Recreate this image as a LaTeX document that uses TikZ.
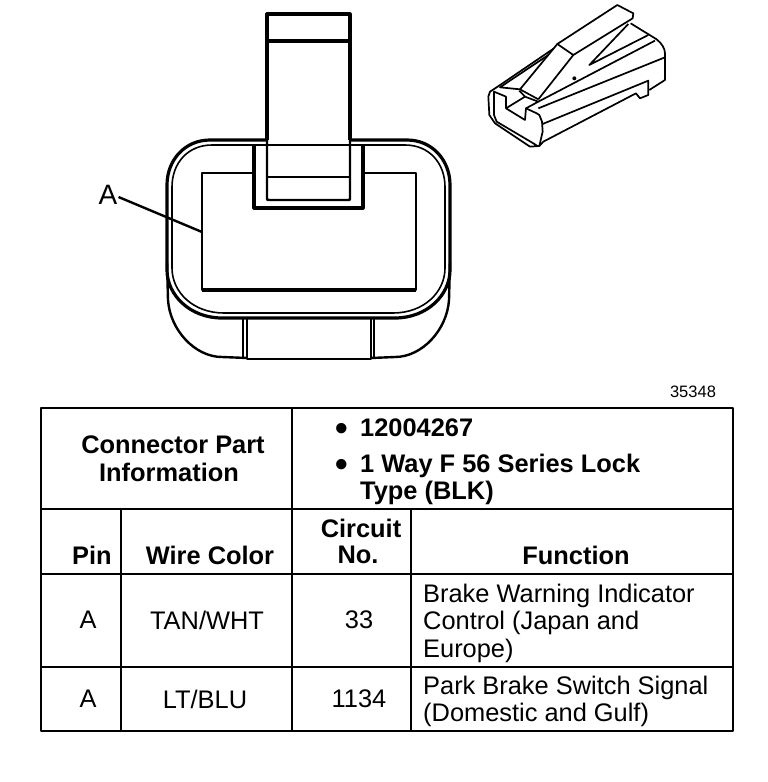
\documentclass[tikz,border=0pt]{standalone}
\usepackage{fontspec}
\setmainfont{Liberation Sans}
\begin{document}
\begin{tikzpicture}[x=1pt,y=-1pt,line join=round,
  ln/.style={line width=2.4pt},
  thin ln/.style={line width=1.6pt},
  thick ln/.style={line width=3.2pt},
  rule/.style={line width=2.6pt},
  hb/.style={font=\fontsize{25.4}{27}\selectfont\bfseries,inner sep=0pt,align=center},
  bul/.style={font=\fontsize{36}{36}\selectfont\bfseries,inner sep=0pt},
  tx/.style={font=\fontsize{25.4}{28}\selectfont,inner sep=0pt,align=center},
  txl/.style={font=\fontsize{25.4}{28}\selectfont,inner sep=0pt,align=left,anchor=west}]
\useasboundingbox (0,0) rectangle (768,782);
\fill[white] (0,0) rectangle (768,782);
% front view: lower body
\draw[ln] (167,262) -- (168,300) .. controls (170,330) and (195,357) .. (222,357) -- (247,358);
\draw[ln] (450,262) -- (449,300) .. controls (447,330) and (422,357) .. (395,357) -- (371,358);
% rounded outer rims
\draw[thick ln] (268,140) -- (210,140) .. controls (185,140) and (167,160) .. (167,185) -- (167,270) .. controls (167,295) and (190,318) .. (222,318) -- (395,318) .. controls (427,318) and (450,295) .. (450,270) -- (450,185) .. controls (450,160) and (432,140) .. (407,140) -- (350,140);
\draw[thin ln] (254,145) -- (212,145) .. controls (188,145) and (172,163) .. (172,187) -- (172,268) .. controls (172,292) and (193,313) .. (224,313) -- (393,313) .. controls (424,313) and (445,292) .. (445,268) -- (445,187) .. controls (445,163) and (429,145) .. (405,145) -- (363,145);
% bottom tab
\draw[ln] (247,318) -- (247,359) -- (371,359) -- (371,318);
\draw[thin ln] (243,318) -- (243,357) (374,318) -- (374,357);
% inner rectangle
\draw[ln] (252,173) -- (202,173) -- (202,290) -- (416,290) -- (416,173) -- (365,173);
\draw[thick ln] (202,290) -- (416,290);
% socket
\draw[thick ln] (254,145) -- (254,208) -- (363,208) -- (363,145);
\draw[ln] (254,145) -- (363,145);
% latch tab
\draw[thick ln] (267,140) -- (267,14) -- (350,14) -- (350,140);
\draw[ln] (267,140) -- (267,198) .. controls (267,200) .. (269,200) -- (348,200) .. controls (350,200) .. (350,198) -- (350,140);
\draw[thick ln] (267,41) -- (350,41);
\draw[ln] (267,177) -- (350,177);
% label A
\node[inner sep=0pt,font=\fontsize{28}{30}\selectfont] (lA) at (108,195) {A};
\coordinate (lAend) at (202,232);
\draw[ln] (lA.east) ++(1,2) -- (lAend);
% perspective view
\begin{scope}[shift={(480,0)},x=0.3333pt,y=-0.3333pt,line width=1.7pt]
\draw (232,132) -- (412,15) -- (460,40) -- (458,55) -- (280,165) -- cycle;
\draw (232,132) -- (120,268) -- (175,298);
\draw (280,165) -- (175,298);
\draw (445,72) -- (328,195) -- (505,105);
\draw (452,70) -- (530,118) .. controls (545,130) and (555,145) .. (555,160) -- (555,240) -- (508,270);
\draw (222,145) -- (50,262) -- (30,275) -- (25,290) -- (28,345) -- (45,370) -- (150,440) -- (178,438) -- (188,395) -- (186,365) -- (178,345) -- (170,340) -- (138,325) -- (135,360) -- (78,325) -- (78,290) -- (42,275) -- (42,345) -- (50,365) -- (160,430) -- (172,438);
\draw (205,165) -- (60,262) -- (120,268);
\draw (78,325) -- (135,290) -- (175,305) -- (138,325);
\draw (118,272) -- (135,290);
\draw (175,305) -- (525,122);
\draw (175,325) -- (555,172);
\draw (188,372) -- (505,242) -- (505,285) -- (480,295) -- (468,280) -- (190,425) -- (178,438);
\fill (283,235) circle (6);
\end{scope}
% code number
\node[inner sep=0pt,font=\fontsize{16.5}{18}\selectfont] (code) at (693,392) {35348};
% table
\draw[rule] (41,408) rectangle (733,731);
\draw[rule] (41,509) -- (733,509);
\draw[rule] (41,574) -- (733,574);
\draw[rule] (41,667) -- (733,667);
\draw[rule] (292,408) -- (292,731);
\draw[rule] (121,509) -- (121,731);
\draw[rule] (411,509) -- (411,731);
\node[hb] (cp) at (173,445) {Connector Part};
\node[hb] (inf) at (169,472) {Information};
\node[bul] (b1) at (342,432) {•};
\node[hb,anchor=west] (pn) at (360,428) {12004267};
\node[bul] (b2) at (342,468) {•};
\node[hb,anchor=west] (ty1) at (360,466) {1 Way F 56 Series Lock};
\node[hb,anchor=west] (ty2) at (360,493) {Type (BLK)};
\node[hb] (h1) at (92,555) {Pin};
\node[hb] (h2) at (210,555) {Wire Color};
\node[hb] (h3a) at (361,528) {Circuit};
\node[hb] (h3b) at (358,555) {No.};
\node[hb] (h4) at (576,555) {Function};
\node[tx] (a1) at (88,620) {A};
\node[tx] (w1) at (207,620) {TAN/WHT};
\node[tx] (c1) at (359,620) {33};
\node[txl] (f1a) at (423,596) {Brake Warning Indicator};
\node[txl] (f1b) at (423,623) {Control (Japan and};
\node[txl] (f1c) at (423,651) {Europe)};
\node[tx] (a2) at (88,699) {A};
\node[tx] (w2) at (205,699) {LT/BLU};
\node[tx] (c2) at (359,699) {1134};
\node[txl] (f2a) at (423,688) {Park Brake Switch Signal};
\node[txl] (f2b) at (423,715) {(Domestic and Gulf)};
\end{tikzpicture}
\end{document}
